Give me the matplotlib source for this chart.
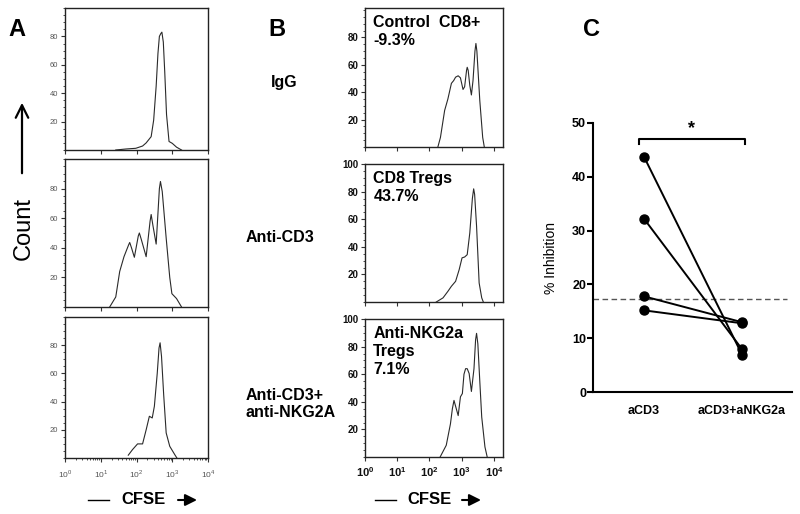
import numpy as np
import matplotlib
matplotlib.use('Agg')
import matplotlib.pyplot as plt
from matplotlib.ticker import FixedLocator, LogLocator, MultipleLocator, NullFormatter

plt.rcParams['font.family'] = ['Liberation Sans', 'DejaVu Sans']
plt.rcParams['mathtext.fontset'] = 'custom'
plt.rcParams['mathtext.rm'] = 'Liberation Sans'
plt.rcParams['mathtext.bf'] = 'Liberation Sans:bold'

W, H = 800, 514

# ---- panel A histograms (x = log10 CFSE, y = count) ----
a_igg_x = [1.42, 1.70, 1.98, 2.17, 2.27, 2.41, 2.48, 2.55, 2.60, 2.64, 2.68, 2.71, 2.75, 2.79, 2.84, 2.91, 3.00, 3.12, 3.26]
a_igg_y = [0, 0.7, 1.2, 2.8, 5, 9.4, 21, 45, 68, 80, 82, 83, 76, 55, 25, 6, 4.7, 2, 0]

a_cd3_x = [1.25, 1.42, 1.53, 1.65, 1.78, 1.81, 1.86, 1.94, 2.05, 2.08, 2.13, 2.27, 2.38, 2.41, 2.46, 2.55, 2.64, 2.67, 2.72, 2.83, 2.93, 2.99, 3.12, 3.26]
a_cd3_y = [0, 6.8, 24, 34, 42, 43.6, 40, 33.6, 48, 50, 46, 34, 58, 62.5, 55, 42.5, 80, 84.8, 78, 46.6, 20, 9, 5.7, 0]

a_nkg_x = [1.77, 1.89, 2.03, 2.17, 2.27, 2.36, 2.44, 2.50, 2.58, 2.63, 2.66, 2.70, 2.76, 2.83, 2.93, 3.07, 3.13]
a_nkg_y = [2, 6, 10, 10, 20, 29.6, 28.4, 36.7, 60, 78, 81.7, 72, 45, 17.8, 8.3, 2.4, 0]

# ---- panel B histograms ----
b_ctrl_x = [2.26, 2.34, 2.47, 2.57, 2.68, 2.75, 2.81, 2.89, 2.96, 3.04, 3.09, 3.15, 3.17, 3.20, 3.25, 3.30, 3.35, 3.41, 3.44, 3.47, 3.56, 3.65, 3.70]
b_ctrl_y = [0, 7, 26.7, 35, 46.5, 48.5, 51, 52, 50.5, 42, 44, 56, 58.2, 56, 45, 38, 48.5, 70, 75.6, 70, 34, 7, 0]

b_treg_x = [2.21, 2.42, 2.57, 2.68, 2.81, 2.92, 3.01, 3.09, 3.17, 3.25, 3.33, 3.37, 3.40, 3.46, 3.54, 3.62, 3.67]
b_treg_y = [0, 3, 7.7, 11.4, 15, 23.4, 32, 32.6, 34.3, 50, 75, 82, 78, 55, 13.8, 3, 0]

b_nkg_x = [2.33, 2.52, 2.65, 2.71, 2.76, 2.89, 2.96, 3.02, 3.07, 3.12, 3.17, 3.23, 3.30, 3.38, 3.43, 3.46, 3.50, 3.56, 3.62, 3.72, 3.79]
b_nkg_y = [0, 8.5, 24, 35, 41, 30, 43.6, 46, 60, 64, 64, 60.5, 47.5, 64, 85, 89.6, 82, 55, 29, 7.3, 0]

b_labels = ['Control  CD8+\n-9.3%', 'CD8 Tregs\n43.7%', 'Anti-NKG2a\nTregs\n7.1%']
row_labels = ['IgG', 'Anti-CD3', 'Anti-CD3+\nanti-NKG2A']

# ---- panel C ----
c_groups = ['aCD3', 'aCD3+aNKG2a']
c_acd3 = [43.7, 32.2, 17.8, 15.2]
c_acd3_nkg2a = [7.0, 8.0, 13.0, 12.8]
c_threshold = 17.3
c_ticks = [0, 10, 20, 30, 40, 50]

decade_ticks = [1, 10, 100, 1000, 10000]
decade_labels = ['$10^{%d}$' % i for i in range(5)]


def px_rect(l, t, r, b):
    return [l / W, 1 - b / H, (r - l) / W, (b - t) / H]


fig = plt.figure(figsize=(W / 100, H / 100), dpi=100)


def hist_axes(rect, x, y, ylim, yticks, xlim, bold, show_x):
    ax = fig.add_axes(px_rect(*rect))
    ax.plot(10 ** np.array(x), y, color='#2a2a2a', lw=0.8)
    ax.set_xscale('log')
    ax.set_xlim(*xlim)
    ax.set_ylim(*ylim)
    ax.xaxis.set_major_locator(FixedLocator(decade_ticks))
    ax.xaxis.set_minor_locator(LogLocator(base=10, subs=np.arange(2, 10)))
    ax.xaxis.set_minor_formatter(NullFormatter())
    ax.yaxis.set_major_locator(FixedLocator(yticks))
    ax.yaxis.set_minor_locator(MultipleLocator(5))
    col = '#111111' if bold else '#555555'
    for s in ax.spines.values():
        s.set_linewidth(1.0)
        s.set_color('#222222')
    ax.tick_params(which='major', direction='out', length=3, width=0.8, color='#333333')
    ax.tick_params(which='minor', direction='out', length=1.5, width=0.6, color='#333333')
    if bold:
        ax.tick_params(axis='y', labelsize=7, pad=1.5, labelcolor=col)
        for t in ax.get_yticklabels():
            t.set_fontweight('bold')
    else:
        ax.tick_params(axis='y', labelsize=5.5, pad=2, labelcolor=col)
    if show_x:
        if bold:
            ax.tick_params(axis='x', labelsize=8, pad=3, labelcolor=col)
            ax.set_xticklabels(['$\\mathbf{10^{%d}}$' % i for i in range(5)])
        else:
            ax.tick_params(axis='x', labelsize=6, pad=4, labelcolor=col)
            ax.set_xticklabels(decade_labels)
    else:
        ax.set_xticklabels([])
    return ax


# panel A
hist_axes((65, 8, 208, 150), a_igg_x, a_igg_y, (0, 100), [20, 40, 60, 80], (1, 1e4), False, False)
hist_axes((65, 159, 208, 307), a_cd3_x, a_cd3_y, (0, 100), [20, 40, 60, 80], (1, 1e4), False, False)
hist_axes((65, 317, 208, 458), a_nkg_x, a_nkg_y, (0, 100), [20, 40, 60, 80], (1, 1e4), False, True)

# panel B
bx = (1, 10 ** 4.28)
ax_b1 = hist_axes((365, 8, 503, 147), b_ctrl_x, b_ctrl_y, (0, 101.5), [20, 40, 60, 80], bx, True, False)
ax_b2 = hist_axes((365, 164, 503, 302), b_treg_x, b_treg_y, (0, 100), [20, 40, 60, 80, 100], bx, True, False)
ax_b3 = hist_axes((365, 319, 503, 457), b_nkg_x, b_nkg_y, (0, 100), [20, 40, 60, 80, 100], bx, True, True)
for ax, lab in zip([ax_b1, ax_b2, ax_b3], b_labels):
    ax.text(0.06, 0.95, lab, transform=ax.transAxes, ha='left', va='top',
            fontsize=11.5, fontweight='bold', linespacing=1.25)

# panel C
ax_c = fig.add_axes(px_rect(593, 122.7, 792, 392.3))
xpos = np.arange(1, len(c_groups) + 1)
ax_c.axhline(c_threshold, xmin=0, xmax=0.975, color='#555555', lw=1.0, ls=(0, (4, 2.5)))
for a, b in zip(c_acd3, c_acd3_nkg2a):
    ax_c.plot(xpos, [a, b], '-o', color='black', lw=1.4, ms=6.5, clip_on=False)
ax_c.set_xlim(0.48, 2.51)
ax_c.set_ylim(0, 50)
ax_c.set_yticks(c_ticks)
ax_c.set_xticks(xpos)
ax_c.set_xticklabels(c_groups)
for side in ['top', 'right']:
    ax_c.spines[side].set_visible(False)
for side in ['left', 'bottom']:
    ax_c.spines[side].set_linewidth(1.5)
ax_c.tick_params(axis='y', direction='out', length=4, width=1.5, labelsize=9, pad=1)
ax_c.tick_params(axis='x', length=0, labelsize=9, pad=9)
for t in ax_c.get_xticklabels() + ax_c.get_yticklabels():
    t.set_fontweight('bold')
ax_c.set_ylabel('% Inhibition', fontsize=10, labelpad=10)
# significance bracket
br_x0, br_x1, br_y, br_tip = 0.946, 2.03, 47.0, 46.0
ax_c.plot([br_x0, br_x0, br_x1, br_x1], [br_tip, br_y, br_y, br_tip], color='black', lw=1.5, clip_on=False)
ax_c.text((br_x0 + br_x1) / 2, br_y + 0.3, '*', ha='center', va='bottom', fontsize=13, fontweight='bold')

# ---- overlay for labels and arrows (pixel coordinates) ----
ov = fig.add_axes([0, 0, 1, 1])
ov.set_xlim(0, W)
ov.set_ylim(H, 0)
ov.axis('off')
ov.patch.set_alpha(0)

for lab, x in [('A', 17), ('B', 277), ('C', 591)]:
    ov.text(x, 30, lab, ha='center', va='center', fontsize=17, fontweight='bold')

ov.text(284, 82, row_labels[0], ha='center', va='center', fontsize=11.5, fontweight='bold')
ov.text(246, 238, row_labels[1], ha='left', va='center', fontsize=11.5, fontweight='bold')
ov.text(246, 404, row_labels[2], ha='left', va='center', fontsize=11.5, fontweight='bold', linespacing=1.15)

# count axis label with arrow
ov.annotate('', xy=(22, 100), xytext=(22, 176),
            arrowprops=dict(arrowstyle='->,head_length=0.9,head_width=0.45', lw=1.6, color='black'))
ov.text(24, 228, 'Count', rotation=90, ha='center', va='center', fontsize=17)

# CFSE labels
for x0, xc, xa in [(88, 144, 178), (375, 429, 462)]:
    ov.plot([x0, x0 + 21], [500, 500], color='black', lw=1.0)
    ov.text(xc, 500, 'CFSE', ha='center', va='center', fontsize=12, fontweight='bold')
    ov.annotate('', xy=(xa + 19, 500), xytext=(xa, 500),
                arrowprops=dict(arrowstyle='-|>,head_length=0.7,head_width=0.35', lw=1.5,
                                color='black', shrinkA=0, shrinkB=0))

fig.savefig('out.png', dpi=100)
